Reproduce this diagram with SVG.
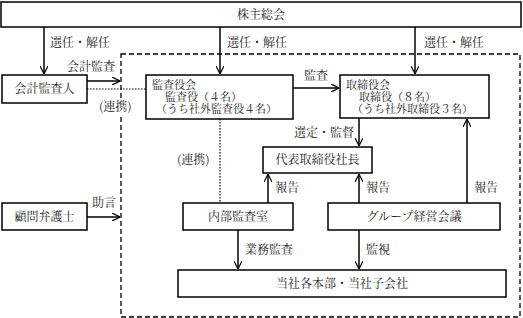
<svg xmlns="http://www.w3.org/2000/svg" width="523" height="318" viewBox="0 0 523 318">
<defs>
<marker id="arr" viewBox="0 0 10 10" refX="10" refY="5" markerWidth="8" markerHeight="8" markerUnits="userSpaceOnUse" orient="auto">
<path d="M0,0 L10,5 L0,10" fill="none" stroke="#000" stroke-width="1.5"/>
</marker>
<style>
text{font-family:"Noto Serif CJK JP","Noto Sans CJK JP",serif;font-size:12px;fill:#222}
.c{text-anchor:middle}
.s{font-size:11px}
.box{fill:#fff;stroke:#000;stroke-width:1.5}
.ln{fill:none;stroke:#000;stroke-width:1.5}
.a{marker-end:url(#arr)}
.dot{fill:none;stroke:#000;stroke-width:1.2;stroke-dasharray:1.5 1.5}
.dash{fill:none;stroke:#000;stroke-width:1.3;stroke-dasharray:5 3}
</style>
</defs>
<rect class="dash" x="121" y="54" width="399" height="263"/>
<g id="connectors">
<path class="ln a" d="M44,27 V74"/>
<path class="ln a" d="M220,27 V74"/>
<path class="ln a" d="M415,27 V74"/>
<path class="ln a" d="M87,81 H120"/>
<path class="dot" d="M87,89 H146"/>
<path class="dot" d="M220,119 V203"/>
<path class="ln a" d="M293,88 H339"/>
<path class="ln a" d="M359,118 V146"/>
<path class="ln a" d="M268,203 V174"/>
<path class="ln a" d="M359,203 V174"/>
<path class="ln a" d="M467,203 V119"/>
<path class="ln a" d="M238,230 V269"/>
<path class="ln a" d="M359,230 V269"/>
<path class="ln a" d="M87,217 H120"/>
<text x="50" y="47">選任・解任</text>
<text x="227" y="47">選任・解任</text>
<text x="424" y="47">選任・解任</text>
<text x="67" y="71">会計監査</text>
<rect x="97" y="99" width="38" height="15" fill="#fff"/>
<text x="99" y="111">(連携)</text>
<text x="177" y="164">(連携)</text>
<text x="304" y="80">監査</text>
<text x="294" y="137">選定・監督</text>
<text x="275" y="192">報告</text>
<text x="366" y="192">報告</text>
<text x="474" y="192">報告</text>
<text x="245" y="254">業務監査</text>
<text x="366" y="254">監視</text>
<text x="92" y="207">助言</text>
</g>
<g id="shareholders"><rect class="box" x="1" y="2" width="520" height="25"/><text class="c" x="261" y="19">株主総会</text></g>
<g id="auditor"><rect class="box" x="2" y="75" width="85" height="28"/><text class="c" x="44.5" y="93">会計監査人</text></g>
<g id="audit-board"><rect class="box" x="146" y="75" width="147" height="44"/>
<text class="s" x="152" y="89">監査役会</text><text class="s" x="165" y="101">監査役（４名）</text><text class="s" x="156" y="113">（うち社外監査役４名）</text></g>
<g id="board"><rect class="box" x="340" y="75" width="149" height="43"/>
<text class="s" x="346" y="89">取締役会</text><text class="s" x="359" y="101">取締役（８名）</text><text class="s" x="352" y="113">（うち社外取締役３名）</text></g>
<g id="president"><rect class="box" x="263" y="147" width="109" height="26"/><text class="c" x="317.5" y="164">代表取締役社長</text></g>
<g id="internal-audit"><rect class="box" x="183" y="203" width="110" height="27"/><text class="c" x="238" y="221">内部監査室</text></g>
<g id="group-meeting"><rect class="box" x="328" y="203" width="172" height="27"/><text class="c" x="414" y="221">グループ経営会議</text></g>
<g id="divisions"><rect class="box" x="178" y="270" width="328" height="27"/><text class="c" x="342" y="288">当社各本部・当社子会社</text></g>
<g id="lawyer"><rect class="box" x="2" y="203" width="85" height="27"/><text class="c" x="44.5" y="221">顧問弁護士</text></g>
</svg>
